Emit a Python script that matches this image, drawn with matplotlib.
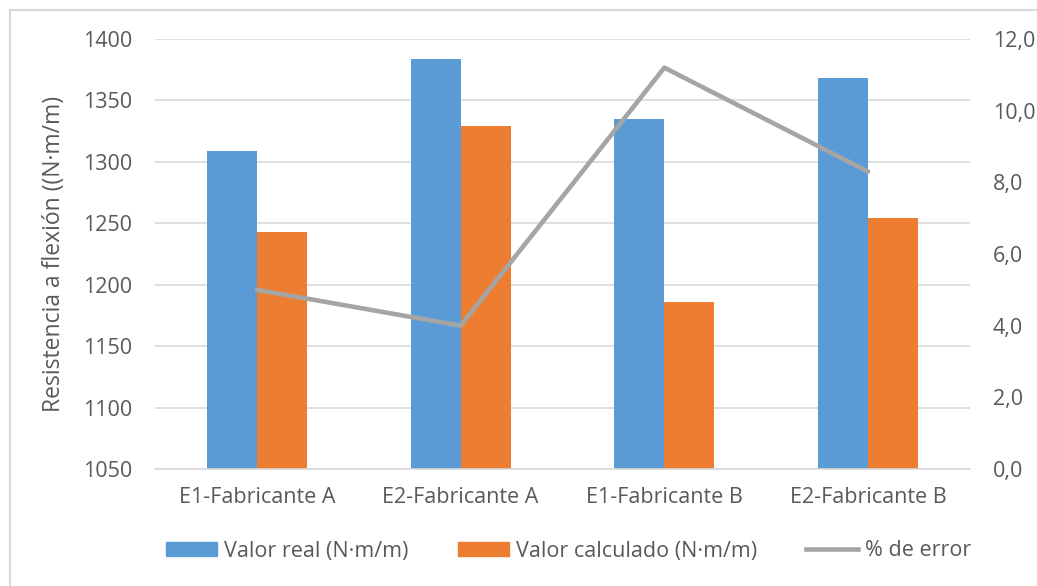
import matplotlib.pyplot as plt
from matplotlib.lines import Line2D
import numpy as np

plt.rcParams['font.family'] = ['Open Sans', 'DejaVu Sans']

categories = ['E1-Fabricante A', 'E2-Fabricante A', 'E1-Fabricante B', 'E2-Fabricante B']
valor_real = [1309, 1384, 1335, 1368]
valor_calculado = [1243, 1329, 1186, 1254]
pct_error = [5.0, 4.0, 11.2, 8.3]

blue = '#5b9bd5'
orange = '#ed7d31'
gray_line = '#a5a5a5'
text_color = '#595959'
grid_color = '#d9d9d9'

W, H = 1037, 586
fig = plt.figure(figsize=(W / 100, H / 100), dpi=100)
ax = fig.add_axes([155 / W, (H - 469) / H, (970 - 155) / W, (469 - 39) / H])

x = np.arange(len(categories))
bw = 0.246
ax.bar(x - bw / 2, valor_real, bw, color=blue, zorder=2, label='Valor real (N·m/m)')
ax.bar(x + bw / 2, valor_calculado, bw, color=orange, zorder=2, label='Valor calculado (N·m/m)')

ax.set_xlim(-0.5, len(categories) - 0.5)
ax.set_ylim(1050, 1400)
ax.set_yticks(np.arange(1050, 1401, 50))
ax.set_xticks(x)
ax.set_xticklabels(categories)
ax.grid(axis='y', color=grid_color, lw=1.2, zorder=0)
for s in ['top', 'right', 'left']:
    ax.spines[s].set_visible(False)
ax.spines['bottom'].set_color(grid_color)
ax.spines['bottom'].set_linewidth(1.2)
ax.tick_params(axis='both', length=0, labelsize=15.5, colors=text_color)
ax.tick_params(axis='y', pad=16.5)
ax.tick_params(axis='x', pad=13)
ax.set_ylabel('Resistencia a flexión ((N·m/m)', fontsize=16.5, color=text_color, labelpad=12)

ax2 = ax.twinx()
ax2.plot(x, pct_error, color=gray_line, lw=3.3, zorder=3, solid_capstyle='round')
ax2.set_ylim(0, 12)
ax2.set_yticks(np.arange(0, 12.1, 2))
ax2.set_yticklabels([f'{v:.1f}'.replace('.', ',') for v in np.arange(0, 12.1, 2)])
for s in ax2.spines.values():
    s.set_visible(False)
ax2.tick_params(axis='y', length=0, labelsize=15.5, colors=text_color, pad=16.5)

handles = [
    plt.Rectangle((0, 0), 1, 1, color=blue),
    plt.Rectangle((0, 0), 1, 1, color=orange),
    Line2D([0], [0], color=gray_line, lw=3.3),
]
labels = ['Valor real (N·m/m)', 'Valor calculado (N·m/m)', '% de error']
leg = fig.legend(handles, labels, loc='center', bbox_to_anchor=(0.548, (H - 551) / H),
                 ncol=3, frameon=False, fontsize=15.5, handlelength=2.4, handleheight=0.62,
                 handletextpad=0.3, columnspacing=2.3)
for t in leg.get_texts():
    t.set_color(text_color)

# light frame around the chart area
fig.add_artist(Line2D([10 / W, 10 / W], [0, (H - 10) / H], color=grid_color, lw=1.5))
fig.add_artist(Line2D([10 / W, 1], [(H - 10) / H, (H - 10) / H], color=grid_color, lw=1.5))

fig.savefig('out.png', dpi=100)
